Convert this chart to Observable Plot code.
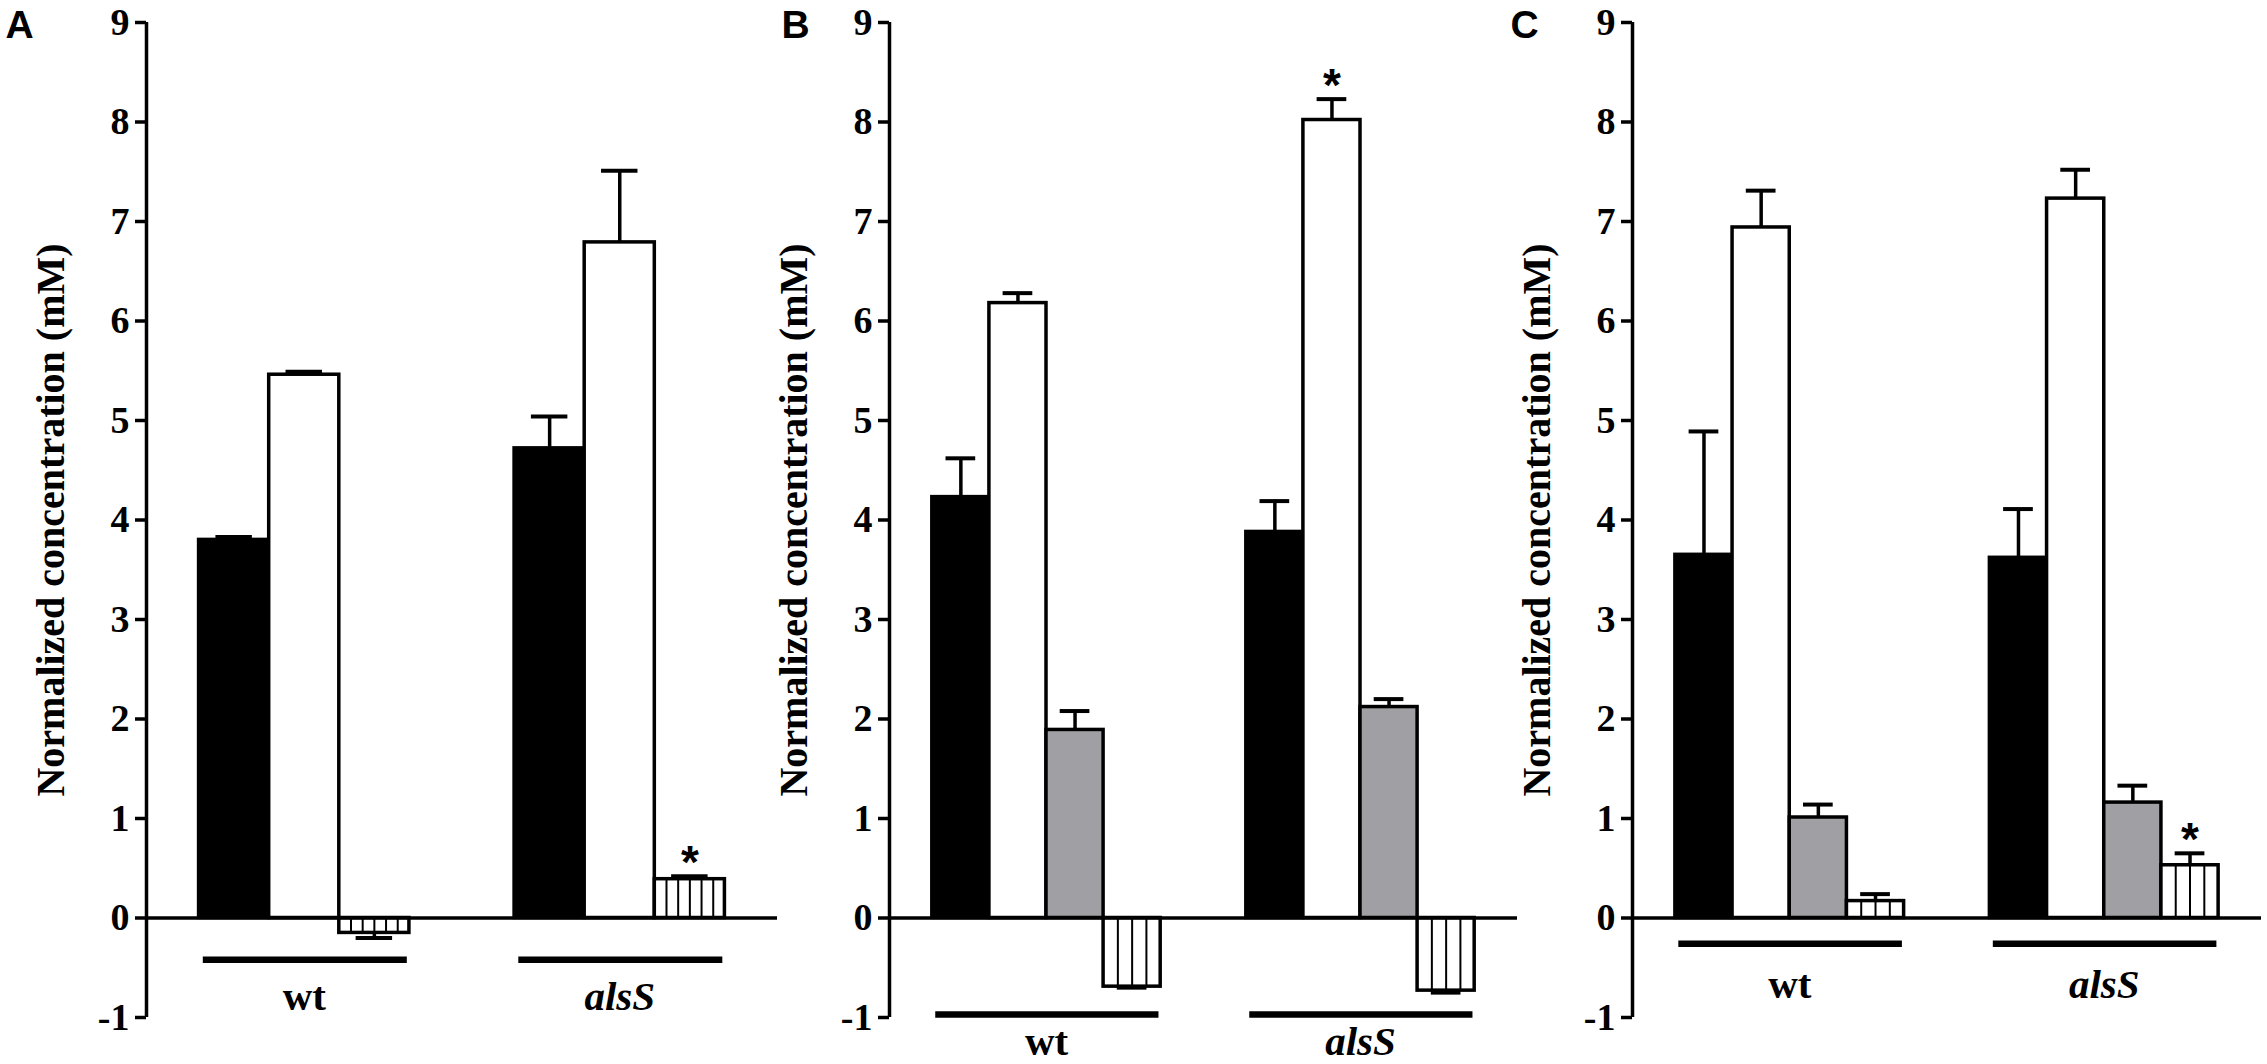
<!DOCTYPE html>
<html><head><meta charset="utf-8">
<script src="https://cdn.jsdelivr.net/npm/d3@7"></script>
<script src="https://cdn.jsdelivr.net/npm/@observablehq/plot@0.6"></script>
<style>
html,body{margin:0;padding:0;background:#fff;}
#wrap{position:relative;width:2267px;height:1064px;overflow:hidden;background:#fff;}
.panel{position:absolute;top:0;}
.panel svg{background:transparent !important;overflow:visible;max-width:none !important;}
</style></head><body><div id="wrap"></div>
<script>
// ---- data ----
const groupLabels = ["wt", "alsS"];
const barTypesA = ["black", "white", "hatched"];
const barTypesBC = ["black", "white", "gray", "hatched"];
const yTicks = [-1, 0, 1, 2, 3, 4, 5, 6, 7, 8, 9];
const yLabel = "Normalized concentration (mM)";
const panelLetters = ["A", "B", "C"];

// means [wt, alsS] per bar type
const meanA = [[3.80, 5.46, -0.15], [4.72, 6.79, 0.39]];
const semA  = [[0.03, 0.03, 0.05], [0.32, 0.72, 0.03]];
const sigA  = [[false, false, false], [false, false, true]];

const meanB = [[4.23, 6.18, 1.89, -0.69], [3.88, 8.02, 2.12, -0.73]];
const semB  = [[0.39, 0.10, 0.19, 0.01], [0.31, 0.21, 0.08, 0.02]];
const sigB  = [[false, false, false, false], [false, true, false, false]];

const meanC = [[3.65, 6.94, 1.01, 0.17], [3.62, 7.23, 1.16, 0.53]];
const semC  = [[1.24, 0.37, 0.13, 0.07], [0.49, 0.29, 0.17, 0.12]];
const sigC  = [[false, false, false, false], [false, false, false, true]];

// ---- layout / style ----
const serif = "'Liberation Serif', 'Times New Roman', serif";
const sans = "'Liberation Sans', Arial, sans-serif";
const fills = {black: "black", white: "white", gray: "#a0a0a4", hatched: "white"};

const panels = [
  {letter: panelLetters[0], types: barTypesA, mean: meanA, sem: semA, sig: sigA,
   left: 0, marginLeft: 146, marginRight: 2, width: 779, letterDx: -141,
   hatchDiv: 6, lineY: -0.42, labelY: -0.79},
  {letter: panelLetters[1], types: barTypesBC, mean: meanB, sem: semB, sig: sigB,
   left: 779, marginLeft: 110, marginRight: 3, width: 741, letterDx: -108,
   hatchDiv: 4, lineY: -0.97, labelY: -1.24},
  {letter: panelLetters[2], types: barTypesBC, mean: meanC, sem: semC, sig: sigC,
   left: 1505, marginLeft: 127, marginRight: 6, width: 762, letterDx: -122,
   hatchDiv: 4, lineY: -0.26, labelY: -0.67}
];

const wrap = document.getElementById("wrap");

for (const cfg of panels) {
  const n = cfg.types.length;
  const gap = 1.5;
  const rows = [];
  groupLabels.forEach((g, gi) => cfg.types.forEach((t, bi) => {
    const x1 = gi * (n + gap) + bi;
    const v = cfg.mean[gi][bi], e = cfg.sem[gi][bi];
    rows.push({group: g, type: t, x1, x2: x1 + 1, xc: x1 + 0.5, v, e,
               tip: v >= 0 ? v + e : v - e, sig: cfg.sig[gi][bi]});
  }));
  const hatch = [];
  rows.filter(r => r.type === "hatched").forEach(r => {
    for (let k = 1; k < cfg.hatchDiv; k++) hatch.push({x: r.x1 + k / cfg.hatchDiv, v: r.v});
  });
  const grp = groupLabels.map((g, gi) => ({group: g, x1: gi * (n + gap), x2: gi * (n + gap) + n, xc: gi * (n + gap) + n / 2}));
  const xDomain = [-0.75, 2 * n + gap + 0.75];

  const chart = Plot.plot({
    width: cfg.width, height: 1064,
    marginTop: 22, marginBottom: 47, marginLeft: cfg.marginLeft, marginRight: cfg.marginRight,
    style: {background: "transparent", fontFamily: serif, overflow: "visible"},
    x: {domain: xDomain, axis: null},
    y: {domain: [-1, 9], axis: null},
    color: {type: "identity"},
    marks: [
      Plot.rect(rows, {x1: "x1", x2: "x2", y1: 0, y2: "v", fill: d => fills[d.type], stroke: "black", strokeWidth: 3.5}),
      Plot.ruleX(hatch, {x: "x", y1: 0, y2: "v", stroke: "black", strokeWidth: 2}),
      Plot.ruleX(rows, {x: "xc", y1: "v", y2: "tip", stroke: "black", strokeWidth: 3.5}),
      Plot.ruleY(rows, {y: "tip", x1: d => d.xc - 0.26, x2: d => d.xc + 0.26, stroke: "black", strokeWidth: 4}),
      Plot.ruleY([0], {stroke: "black", strokeWidth: 3.5}),
      Plot.ruleX([xDomain[0]], {y1: -1, y2: 9, stroke: "black", strokeWidth: 3.5}),
      Plot.axisY({ticks: yTicks, tickSize: 11, tickPadding: 6, strokeWidth: 3.5, label: null,
                  tickFormat: d => String(d), fontSize: 38, fontWeight: "bold", fontFamily: serif}),
      Plot.ruleY(grp, {y: cfg.lineY, x1: d => d.x1 + 0.06, x2: d => d.x2 - 0.03, stroke: "black", strokeWidth: 6.5}),
      Plot.text(grp.filter(d => d.group === "wt"), {x: "xc", y: cfg.labelY, text: "group", fontSize: 41, fontWeight: "bold", fontFamily: serif}),
      Plot.text(grp.filter(d => d.group === "alsS"), {x: "xc", y: cfg.labelY, text: "group", fontSize: 41, fontWeight: "bold", fontStyle: "italic", fontFamily: serif}),
      Plot.text(rows.filter(d => d.sig), {x: "xc", y: d => d.tip + 0.25, text: () => "*", fontSize: 46, fontWeight: "bold", fontFamily: sans, dy: 12}),
      Plot.text([yLabel], {frameAnchor: "left", rotate: -90, dx: -95, textAnchor: "middle", fontSize: 40, fontWeight: "bold", fontFamily: serif}),
      Plot.text([cfg.letter], {frameAnchor: "top-left", dx: cfg.letterDx, dy: -12, lineAnchor: "top", textAnchor: "start", fontSize: 39, fontWeight: "bold", fontFamily: sans})
    ]
  });
  const div = document.createElement("div");
  div.className = "panel";
  div.style.left = cfg.left + "px";
  div.style.width = cfg.width + "px";
  div.appendChild(chart);
  wrap.appendChild(div);
}
</script>
</body></html>
